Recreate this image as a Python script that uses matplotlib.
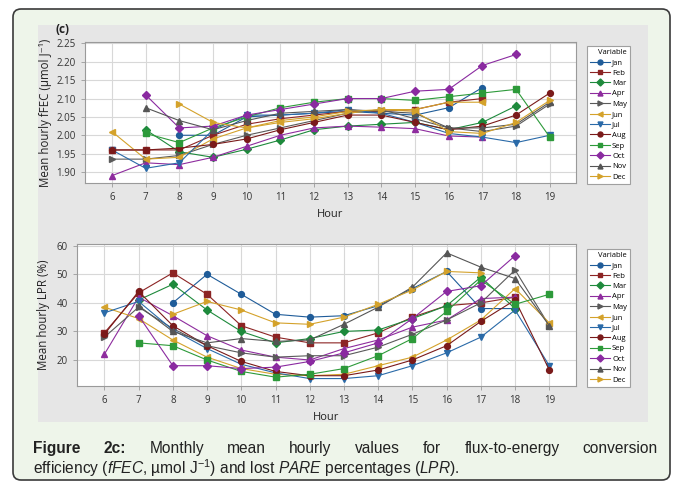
import numpy as np
import matplotlib
matplotlib.use('Agg')
import matplotlib.pyplot as plt
from matplotlib.patches import FancyBboxPatch, Rectangle

nan = np.nan

# x axis
hours = list(range(6, 20))
months = ['Jan', 'Feb', 'Mar', 'Apr', 'May', 'Jun', 'Jul', 'Aug', 'Sep', 'Oct', 'Nov', 'Dec']

# mean hourly fFEC (umol J-1), hours 6..19
jan_f = [nan, nan, 2.000, 2.000, 2.050, 2.055, 2.060, 2.065, 2.060, 2.055, 2.075, 2.130, nan, nan]
feb_f = [1.960, 1.960, 1.960, 2.000, 2.030, 2.045, 2.055, 2.065, 2.065, 2.070, 2.090, 2.100, nan, nan]
mar_f = [nan, 2.015, 1.955, 1.940, 1.962, 1.987, 2.015, 2.025, 2.030, 2.035, 2.015, 2.035, 2.080, nan]
apr_f = [1.890, 1.925, 1.920, 1.940, 1.970, 2.000, 2.020, 2.025, 2.022, 2.018, 1.998, 1.995, nan, nan]
may_f = [1.935, 1.935, 1.945, 1.975, 2.000, 2.020, 2.040, 2.060, 2.070, 2.045, 2.020, 2.010, 2.025, 2.085]
jun_f = [2.010, 1.935, 1.940, 1.990, 2.020, 2.035, 2.045, 2.060, 2.070, 2.070, 2.090, 2.090, nan, nan]
jul_f = [1.960, 1.910, 1.925, 2.015, 2.055, 2.055, 2.060, 2.070, 2.060, 2.035, 2.005, 1.995, 1.980, 2.000]
aug_f = [1.960, 1.960, 1.965, 1.975, 1.990, 2.015, 2.035, 2.055, 2.055, 2.035, 2.015, 2.025, 2.055, 2.115]
sep_f = [nan, 2.005, 1.980, 2.020, 2.050, 2.075, 2.090, 2.100, 2.100, 2.095, 2.105, 2.115, 2.125, 1.995]
oct_f = [nan, 2.110, 2.020, 2.025, 2.055, 2.070, 2.085, 2.100, 2.100, 2.120, 2.125, 2.190, 2.220, nan]
nov_f = [nan, 2.075, 2.040, 2.015, 2.040, 2.060, 2.065, 2.070, 2.065, 2.060, 2.020, 2.020, 2.030, 2.090]
dec_f = [nan, nan, 2.085, 2.035, 2.020, 2.040, 2.050, 2.065, 2.070, 2.065, 2.010, 2.005, 2.035, 2.095]

# mean hourly LPR (%), hours 6..19
jan_l = [nan, nan, 40.0, 50.0, 43.0, 36.0, 35.0, 35.5, 39.0, 45.0, 51.0, 38.0, 38.0, nan]
feb_l = [29.5, 43.5, 50.5, 43.0, 32.0, 28.0, 26.0, 26.0, 29.5, 35.0, 39.0, 40.0, 42.0, nan]
mar_l = [nan, 41.0, 46.5, 37.5, 30.0, 26.0, 27.5, 30.0, 30.5, 34.5, 39.0, 49.0, 38.0, nan]
apr_l = [22.0, 42.0, 35.5, 28.5, 23.5, 21.0, 20.0, 24.0, 27.0, 31.5, 34.0, 41.5, 42.0, nan]
may_l = [28.0, 38.5, 31.0, 25.0, 22.5, 21.0, 21.5, 21.5, 24.5, 29.0, 34.0, 40.0, 51.5, 32.0]
jun_l = [38.5, 34.5, 27.0, 21.0, 17.0, 15.0, 14.5, 15.0, 18.0, 21.0, 27.0, 34.0, 45.0, 33.0]
jul_l = [36.5, 40.5, 30.5, 24.0, 18.5, 15.5, 13.5, 13.5, 14.5, 18.0, 22.5, 28.0, 37.5, 18.0]
aug_l = [29.0, 44.0, 32.0, 25.0, 19.5, 16.0, 14.5, 14.5, 16.5, 20.0, 25.0, 33.5, 41.0, 16.5]
sep_l = [nan, 26.0, 25.0, 20.0, 16.0, 14.0, 15.0, 17.0, 21.5, 27.5, 37.0, 48.0, 39.5, 43.0]
oct_l = [nan, 35.5, 18.0, 18.0, 17.0, 17.5, 19.5, 22.5, 26.0, 34.5, 44.0, 46.0, 56.5, nan]
nov_l = [nan, 39.0, 30.0, 26.0, 27.5, 26.5, 27.0, 32.5, 38.5, 45.5, 57.5, 52.5, 48.5, 32.0]
dec_l = [nan, nan, 36.0, 40.5, 37.5, 33.0, 32.5, 35.0, 39.5, 44.5, 51.0, 50.5, nan, nan]

fFEC = [jan_f, feb_f, mar_f, apr_f, may_f, jun_f, jul_f, aug_f, sep_f, oct_f, nov_f, dec_f]
LPR = [jan_l, feb_l, mar_l, apr_l, may_l, jun_l, jul_l, aug_l, sep_l, oct_l, nov_l, dec_l]

# minitab-like styles
colors = ['#1f5c99', '#8c2424', '#1e8a3c', '#8e2c9e', '#5a5a5a', '#d4a22b',
          '#2a6aa8', '#7a1a1a', '#2d9a3a', '#8a2aa0', '#555555', '#d4a22b']
markers = ['o', 's', 'D', '^', '>', '<', 'v', 'o', 's', 'D', '^', '>']

W, H = 677, 488
plt.rcParams['font.family'] = ['Open Sans', 'DejaVu Sans']
plt.rcParams['mathtext.fontset'] = 'custom'
plt.rcParams['mathtext.rm'] = 'Liberation Sans'
plt.rcParams['mathtext.it'] = 'Liberation Sans:italic'

fig = plt.figure(figsize=(W / 100, H / 100), dpi=100)

# background in pixel coords
bg = fig.add_axes([0, 0, 1, 1], zorder=0)
bg.set_xlim(0, W)
bg.set_ylim(H, 0)
bg.axis('off')
bg.add_patch(FancyBboxPatch((13, 9), 657, 471, boxstyle='round,pad=0,rounding_size=8',
                            facecolor='#eef5ea', edgecolor='#3a3a3a', linewidth=1.2))
bg.add_patch(Rectangle((38, 25), 610, 397, facecolor='#e6e6e6', edgecolor='none'))


def px_axes(l, t, r, b):
    return fig.add_axes([l / W, 1 - b / H, (r - l) / W, (b - t) / H], zorder=2)


def draw_panel(ax, data):
    for i, vals in enumerate(data):
        ax.plot(hours, vals, color=colors[i], marker=markers[i], markersize=4.2,
                linewidth=0.8, label=months[i])
    ax.set_facecolor('white')
    ax.set_xlim(5.2, 19.78)
    ax.set_xticks(hours)
    ax.grid(True, color='#d8d8d8', linewidth=0.8)
    ax.set_axisbelow(True)
    for s in ax.spines.values():
        s.set_color('#9a9a9a')
        s.set_linewidth(0.8)
    ax.tick_params(labelsize=7, colors='#9a9a9a', labelcolor='#333333', length=3, width=0.6)
    ax.set_xlabel('Hour', fontsize=8, color='#222222', labelpad=4)


# top panel: fFEC
ax1 = px_axes(85, 42, 576, 183)
draw_panel(ax1, fFEC)
ax1.set_ylim(1.87, 2.254)
ax1.set_yticks(np.arange(1.90, 2.26, 0.05))
ax1.yaxis.set_major_formatter(plt.FormatStrFormatter('%.2f'))
ax1.set_ylabel('Mean hourly fFEC (µmol J⁻¹)', fontsize=8.3, color='#222222', labelpad=3)
fig.text(56 / W, 1 - 33 / H, '(c)', fontsize=8.5, fontweight='bold', color='#222222')

# bottom panel: LPR
ax2 = px_axes(77, 244, 576, 386)
draw_panel(ax2, LPR)
ax2.set_ylim(10.9, 60.6)
ax2.set_yticks([20, 30, 40, 50, 60])
ax2.set_ylabel('Mean hourly LPR (%)', fontsize=8.3, color='#222222', labelpad=5)

# legends
for ax, top in [(ax1, 42), (ax2, 245)]:
    leg = ax.legend(title='Variable', loc='upper left', bbox_to_anchor=(583 / W, 1 - top / H),
                    bbox_transform=fig.transFigure, fontsize=5.5, title_fontsize=5.5,
                    alignment='right', handlelength=2.6, handletextpad=0.3, labelspacing=0.4,
                    borderpad=0.4, fancybox=False, framealpha=1, edgecolor='#a0a0a0',
                    markerscale=0.85)
    leg.get_frame().set_linewidth(0.8)

# caption, first line justified
fig.canvas.draw()
rend = fig.canvas.get_renderer()
words = [('Figure', 'bold'), ('2c:', 'bold'), ('Monthly', 'normal'), ('mean', 'normal'),
         ('hourly', 'normal'), ('values', 'normal'), ('for', 'normal'),
         ('flux-to-energy', 'normal'), ('conversion', 'normal')]
cap_font = dict(fontsize=11.2, family='Liberation Sans', color='#222222', va='baseline')
texts = []
for w, fw in words:
    t = bg.text(0, 453, w, fontweight=fw, **cap_font)
    texts.append(t)
widths = [t.get_window_extent(rend).width for t in texts]
x0, x1 = 33, 658
gap = (x1 - x0 - sum(widths)) / (len(words) - 1)
x = x0
for t, w in zip(texts, widths):
    t.set_x(x)
    x += w + gap

bg.text(x0, 474, r'efficiency ($\mathit{fFEC}$, µmol J$^{-1}$) and lost $\mathit{PARE}$ '
        r'percentages ($\mathit{LPR}$).', **cap_font)

fig.savefig('out.png', dpi=100)
